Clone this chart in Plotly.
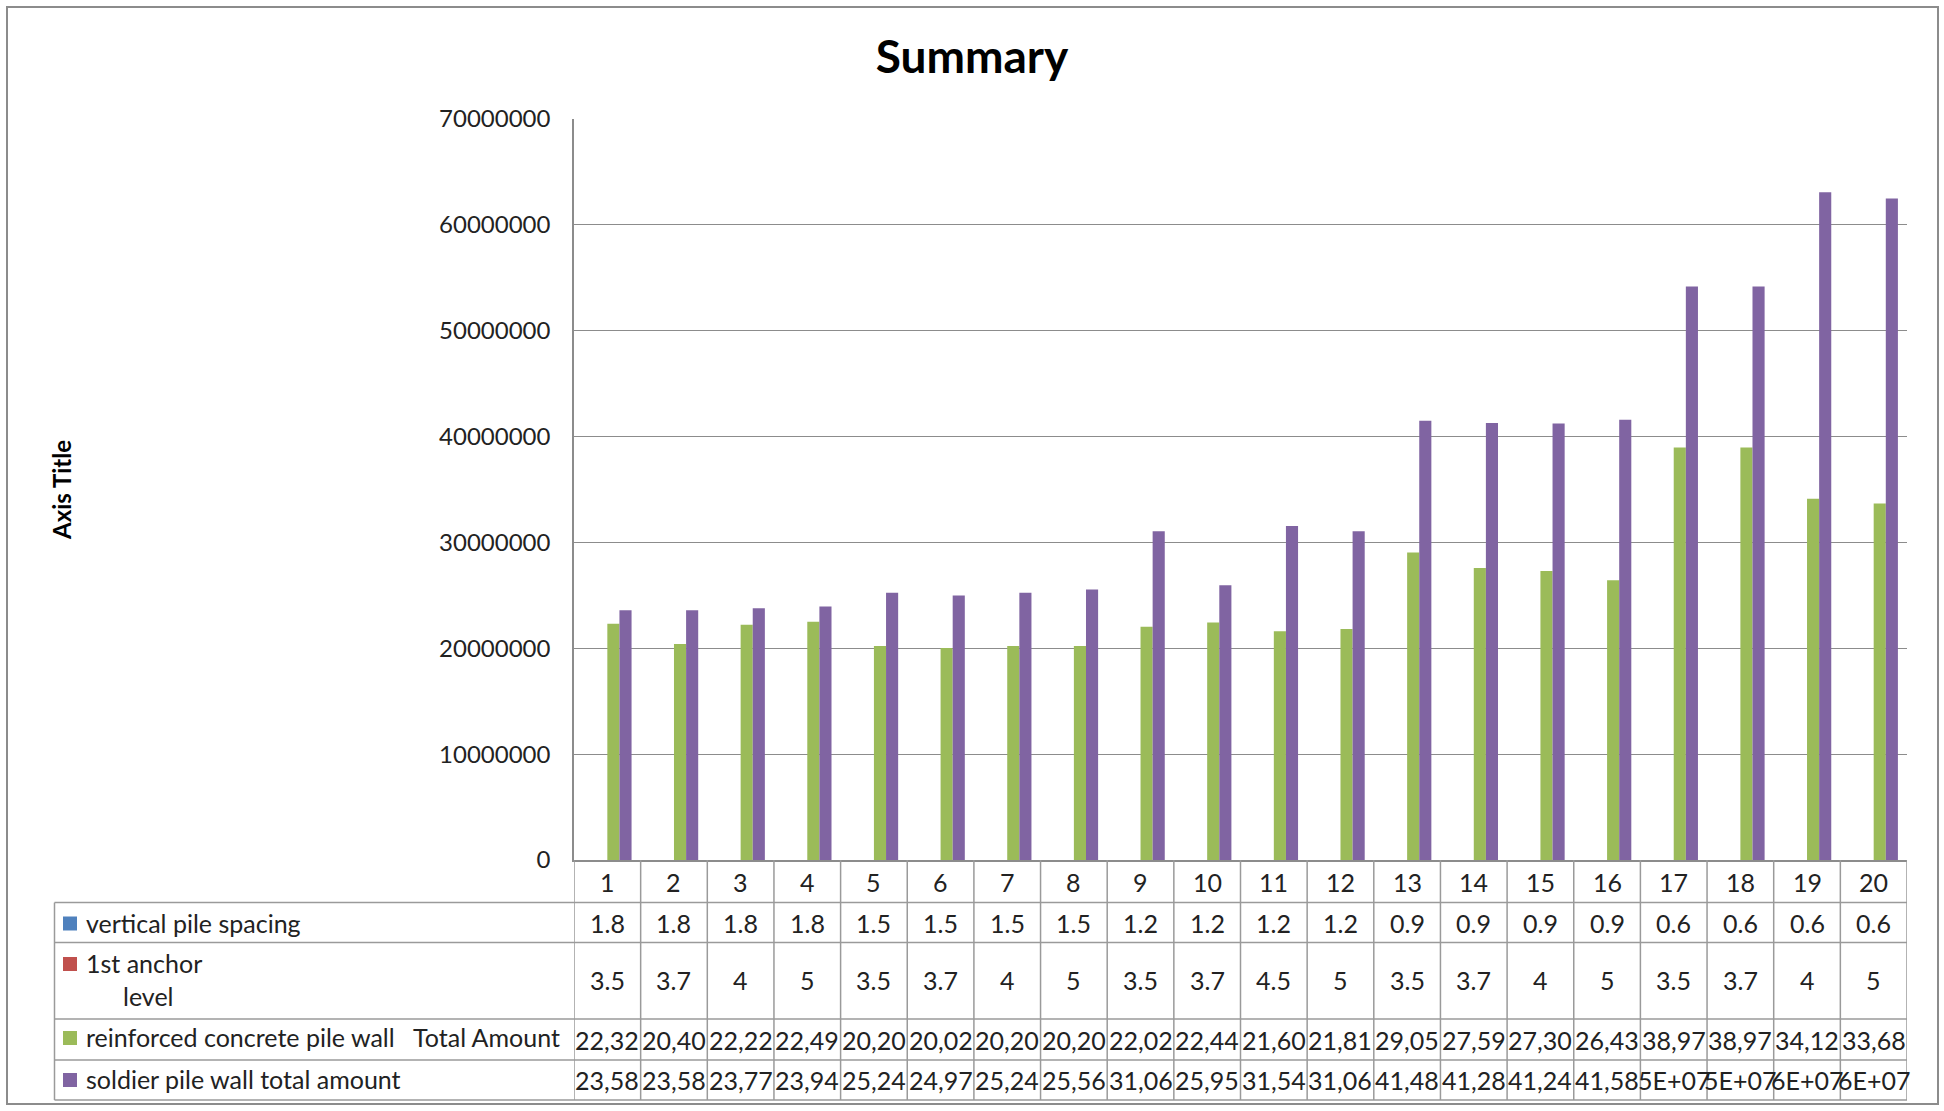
import plotly.graph_objects as go

# ---------------- data ----------------
categories = list(range(1, 21))
vertical_pile_spacing = [1.8, 1.8, 1.8, 1.8, 1.5, 1.5, 1.5, 1.5, 1.2, 1.2,
                         1.2, 1.2, 0.9, 0.9, 0.9, 0.9, 0.6, 0.6, 0.6, 0.6]
first_anchor_level = [3.5, 3.7, 4, 5, 3.5, 3.7, 4, 5, 3.5, 3.7,
                      4.5, 5, 3.5, 3.7, 4, 5, 3.5, 3.7, 4, 5]
rc_pile_wall_total = [22325000, 20405000, 22225000, 22495000, 20205000,
                      20025000, 20205000, 20205000, 22025000, 22445000,
                      21605000, 21815000, 29055000, 27595000, 27305000,
                      26435000, 38975000, 38975000, 34125000, 33685000]
soldier_pile_wall_total = [23585000, 23585000, 23775000, 23945000, 25245000,
                           24975000, 25245000, 25565000, 31065000, 25955000,
                           31545000, 31065000, 41485000, 41285000, 41245000,
                           41585000, 54180000, 54180000, 63090000, 62480000]
# number formats of the source cells ("General" cells show as scientific)
rc_formats = ["#,##0"] * 20
soldier_formats = ["#,##0"] * 16 + ["General"] * 4

series_names = ["vertical pile spacing", "1st anchor level",
                "reinforced concrete pile wall   Total Amount",
                "soldier pile wall total amount"]
series_colors = ["#4F81BD", "#C0504D", "#9BBB59", "#8064A2"]
y_ticks = [0, 10000000, 20000000, 30000000, 40000000, 50000000, 60000000, 70000000]

# ---------------- geometry helpers ----------------
W, H = 1944, 1111
PL, PR, PT, PB = 574, 1907, 119, 860
PW, PH = PR - PL, PB - PT


def px(p):
    return (p - PL) / PW


def py(p):
    return (PB - p) / PH


FONT = "Lato"
TXT = "#222222"
LINE = "#9a9a9a"
TFS = 25


def cell_text(v, fmt):
    if fmt == "General":
        return f"{v:.0E}"
    s = f"{v:,.0f}"
    return s[:5]  # visible (clipped) part of the cell


fig = go.Figure()
all_series = [vertical_pile_spacing, first_anchor_level, rc_pile_wall_total, soldier_pile_wall_total]
for name, vals, col in zip(series_names, all_series, series_colors):
    fig.add_trace(go.Bar(x=categories, y=vals, name=name, marker_color=col,
                         marker_line_width=0, showlegend=False))

shapes = []
annotations = []

# outer chart border
shapes.append(dict(type="rect", xref="paper", yref="paper", x0=px(7), x1=px(1938),
                   y0=py(7), y1=py(1104), line=dict(color="#8c8c8c", width=2), layer="below"))

# data table rows (pixel y boundaries)
row_top = [860, 902.6, 942.5, 1019, 1060, 1100]
for yb in row_top[1:]:
    shapes.append(dict(type="line", xref="paper", yref="paper", x0=px(54.5), x1=1,
                       y0=py(yb), y1=py(yb), line=dict(color=LINE, width=1.5)))
shapes.append(dict(type="line", xref="paper", yref="paper", x0=px(54.5), x1=px(54.5),
                   y0=py(902.6), y1=py(1100), line=dict(color=LINE, width=1.5)))
for i in range(21):
    shapes.append(dict(type="line", xref="x", yref="paper", x0=i + 0.5, x1=i + 0.5,
                       y0=0, y1=py(1100), line=dict(color=LINE, width=1.5)))

# header numbers
for c in categories:
    annotations.append(dict(x=c, y=py(881.5), xref="x", yref="paper", text=str(c),
                            xanchor="center", yanchor="middle",
                            showarrow=False, font=dict(family=FONT, size=TFS, color=TXT)))

row_centers = [922.5, 980, 1039.5, 1080]
row_texts = [
    [f"{v:g}" for v in vertical_pile_spacing],
    [f"{v:g}" for v in first_anchor_level],
    [cell_text(v, f) for v, f in zip(rc_pile_wall_total, rc_formats)],
    [cell_text(v, f) for v, f in zip(soldier_pile_wall_total, soldier_formats)],
]
for yc, texts in zip(row_centers, row_texts):
    for c, t in zip(categories, texts):
        annotations.append(dict(x=c, y=py(yc), xref="x", yref="paper", text=t,
                                xanchor="center", yanchor="middle",
                                showarrow=False, font=dict(family=FONT, size=TFS, color=TXT)))

# legend keys + labels
label_rows = [
    (922.5, [("vertical pile spacing", 84, 922.5)]),
    (963, [("1st anchor", 84, 963), ("level", 121, 995.5)]),
    (1037, [("reinforced concrete pile wall\u00a0\u00a0\u00a0Total Amount", 84, 1037)]),
    (1079, [("soldier pile wall total amount", 84, 1079)]),
]
for (ky, labels), col in zip(label_rows, series_colors):
    shapes.append(dict(type="rect", xref="paper", yref="paper", x0=px(63), x1=px(77),
                       y0=py(ky - 6), y1=py(ky + 8), fillcolor=col, line=dict(width=0)))
    for t, lx, ly in labels:
        annotations.append(dict(x=px(lx), y=py(ly), xref="paper", yref="paper", text=t,
                                xanchor="left", yanchor="middle", showarrow=False,
                                font=dict(family=FONT, size=TFS, color=TXT)))

# axis title
annotations.append(dict(x=px(62), y=py(490), xref="paper", yref="paper", text="<b>Axis Title</b>",
                        xanchor="center", yanchor="middle",
                        textangle=-90, showarrow=False, font=dict(family=FONT, size=24, color="#000")))

fig.update_layout(
    width=W, height=H,
    margin=dict(l=PL, r=W - PR, t=PT, b=H - PB),
    paper_bgcolor="white", plot_bgcolor="white",
    barmode="group", bargap=1.5 / 5.5, bargroupgap=0,
    title=dict(text="<b>Summary</b>", x=0.5, xanchor="center", y=1 - 57 / H, yanchor="middle",
               font=dict(family=FONT, size=46, color="#000")),
    xaxis=dict(range=[0.5, 20.5], showticklabels=False, ticks="", showgrid=False,
               zeroline=False, showline=True, linecolor="#8c8c8c", linewidth=1.5),
    yaxis=dict(range=[0, 70000000], tickvals=y_ticks, tickformat="d", showgrid=True,
               gridcolor="#8c8c8c", gridwidth=1.3, zeroline=False, showline=True,
               linecolor="#8c8c8c", linewidth=1.5, ticks="", ticklabelstandoff=17,
               tickfont=dict(family=FONT, size=24, color=TXT)),
    shapes=shapes, annotations=annotations,
    font=dict(family=FONT),
)

fig.write_html("out.html", config={"displayModeBar": False},
               post_script="document.body.style.margin='0';document.body.style.overflow='hidden';")
